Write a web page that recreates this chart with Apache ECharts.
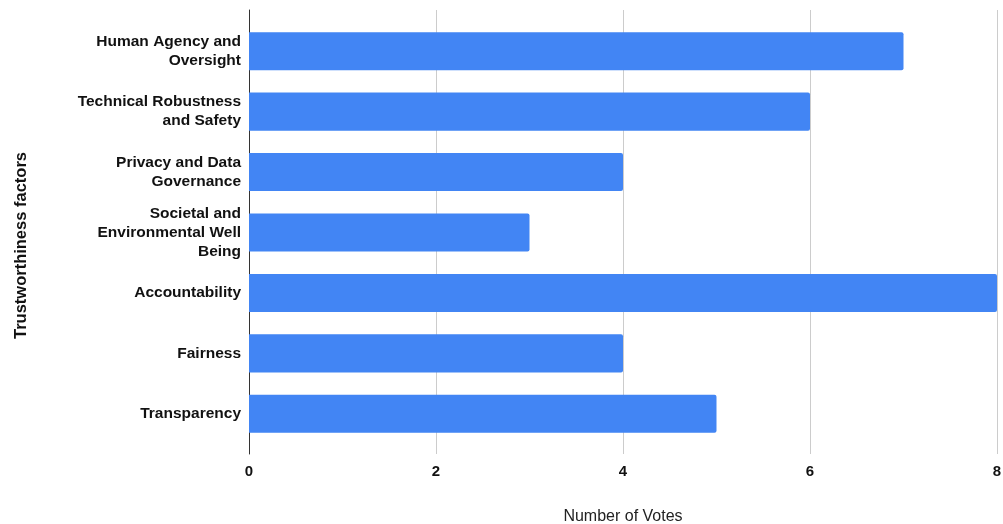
<!DOCTYPE html>
<html>
<head>
<meta charset="utf-8">
<script src="https://cdn.jsdelivr.net/npm/echarts@6/dist/echarts.min.js"></script>
<style>
  html, body { margin: 0; padding: 0; background: #fff; }
  #chart { width: 1003px; height: 524px; }
</style>
</head>
<body>
<div id="chart"></div>
<script>
// Trustworthiness factors and the votes each one received
const factors = [
  'Human Agency and\nOversight',
  'Technical Robustness\nand Safety',
  'Privacy and Data\nGovernance',
  'Societal and\nEnvironmental Well\nBeing',
  'Accountability',
  'Fairness',
  'Transparency'
];
const votes = [7, 6, 4, 3, 8, 4, 5];
const voteTicks = { min: 0, max: 8, interval: 2 };

const FONT = '"Liberation Sans", Arial, sans-serif';

const chart = echarts.init(document.getElementById('chart'));
chart.setOption({
  animation: false,
  textStyle: { fontFamily: FONT },
  grid: [
    // bars
    { left: 249, right: 6, top: 21, bottom: 80, outerBoundsMode: 'none', containLabel: false },
    // frame: gridlines, axis line and tick labels
    { left: 249, right: 6, top: 10, bottom: 70, outerBoundsMode: 'none', containLabel: false }
  ],
  xAxis: [
    {
      gridIndex: 0, type: 'value',
      min: voteTicks.min, max: voteTicks.max, interval: voteTicks.interval,
      axisLine: { show: false }, axisTick: { show: false },
      axisLabel: { show: false }, splitLine: { show: false }
    },
    {
      gridIndex: 1, type: 'value',
      min: voteTicks.min, max: voteTicks.max, interval: voteTicks.interval,
      axisLine: { show: false }, axisTick: { show: false },
      axisLabel: { show: true, color: '#111', fontWeight: 'bold', fontSize: 15, margin: 10, fontFamily: FONT },
      splitLine: { show: true, lineStyle: { color: '#cccccc', width: 1 } },
      name: 'Number of Votes', nameLocation: 'middle', nameGap: 55,
      nameTextStyle: { color: '#222', fontSize: 16, fontFamily: FONT }
    }
  ],
  yAxis: [
    {
      gridIndex: 0, type: 'category', data: factors, inverse: true,
      axisLine: { show: false }, axisTick: { show: false },
      axisLabel: {
        color: '#111', fontWeight: 'bold', fontSize: 15.5, lineHeight: 19,
        margin: 8, align: 'right', fontFamily: FONT
      },
      splitLine: { show: false }
    },
    {
      gridIndex: 1, type: 'value', min: 0, max: 1,
      axisLine: { show: true, onZero: false, lineStyle: { color: '#333', width: 1 } },
      axisTick: { show: false }, axisLabel: { show: false },
      splitLine: { show: false }
    }
  ],
  graphic: [
    {
      type: 'text', left: 13, top: 152, rotation: Math.PI / 2,
      style: {
        text: 'Trustworthiness factors', fill: '#111',
        font: 'bold 16.5px ' + FONT
      }
    }
  ],
  series: [
    {
      type: 'bar', xAxisIndex: 0, yAxisIndex: 0,
      data: votes,
      barCategoryGap: '37%',
      itemStyle: { color: '#4285F4', borderRadius: [0, 2, 2, 0] },
      z: 3
    }
  ]
});
</script>
</body>
</html>
